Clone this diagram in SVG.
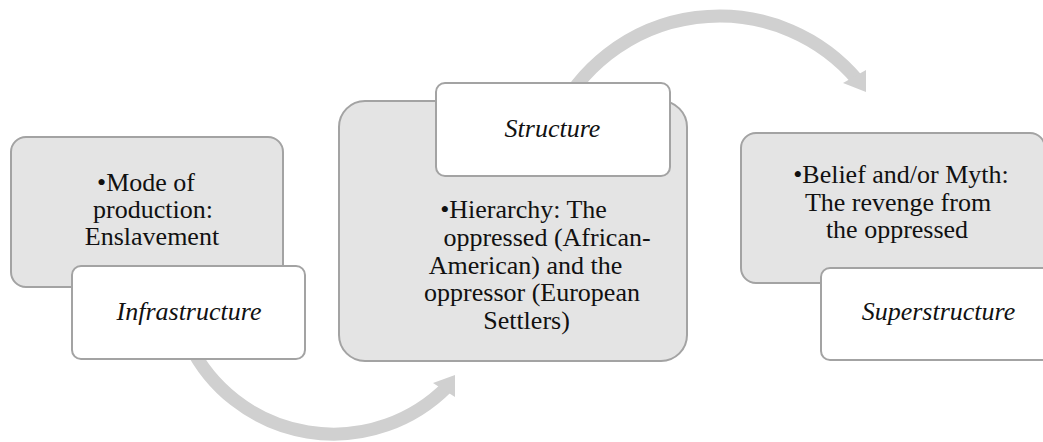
<svg xmlns="http://www.w3.org/2000/svg" width="1043" height="442" viewBox="0 0 1043 442">
<style>
.arc{fill:none;stroke:#d0d0d0;stroke-width:13;stroke-linecap:butt}
.head{fill:#d0d0d0;stroke:none}
.body{fill:#e4e4e4;stroke:#a3a3a3;stroke-width:2}
.label{fill:#ffffff;stroke:#a3a3a3;stroke-width:2}
.t{font-family:"Liberation Serif","Times New Roman",serif;font-size:26px;fill:#111;text-anchor:middle}
.i{font-style:italic}
</style>
<rect width="1043" height="442" fill="#ffffff"/>
<g id="connectors">
<path class="arc" d="M189.8,345 A160.4,160.4 0 0 0 446.9,387.1"/>
<polygon class="head" points="433,383 455,397 455,375"/>
<path class="arc" d="M555.4,120 A181.1,181.1 0 0 1 858,80.7"/>
<polygon class="head" points="843,83 866,70 866,92"/>
</g>
<g id="node-infrastructure">
<rect class="body" x="11" y="137" width="272" height="150" rx="15"/>
<text class="t" x="146" y="191">•Mode of</text>
<text class="t" x="153" y="218">production:</text>
<text class="t" x="152" y="245">Enslavement</text>
<rect class="label" x="72" y="266" width="233" height="93" rx="9"/>
<text class="t i" x="189" y="320">Infrastructure</text>
</g>
<g id="node-structure">
<rect class="body" x="339" y="101" width="348" height="260" rx="26"/>
<text class="t" x="523.5" y="218">•Hierarchy: The</text>
<text class="t" x="547" y="246">oppressed (African-</text>
<text class="t" x="525.5" y="274">American) and the</text>
<text class="t" x="532" y="301">oppressor (European</text>
<text class="t" x="526.5" y="329">Settlers)</text>
<rect class="label" x="436" y="83" width="234" height="93" rx="9"/>
<text class="t i" x="552.5" y="137">Structure</text>
</g>
<g id="node-superstructure">
<rect class="body" x="741" y="133" width="304" height="150" rx="15"/>
<text class="t" x="901" y="183">•Belief and/or Myth:</text>
<text class="t" x="898" y="211">The revenge from</text>
<text class="t" x="897" y="238">the oppressed</text>
<rect class="label" x="821" y="268" width="233" height="92" rx="9"/>
<text class="t i" x="938.5" y="320">Superstructure</text>
</g>
</svg>
